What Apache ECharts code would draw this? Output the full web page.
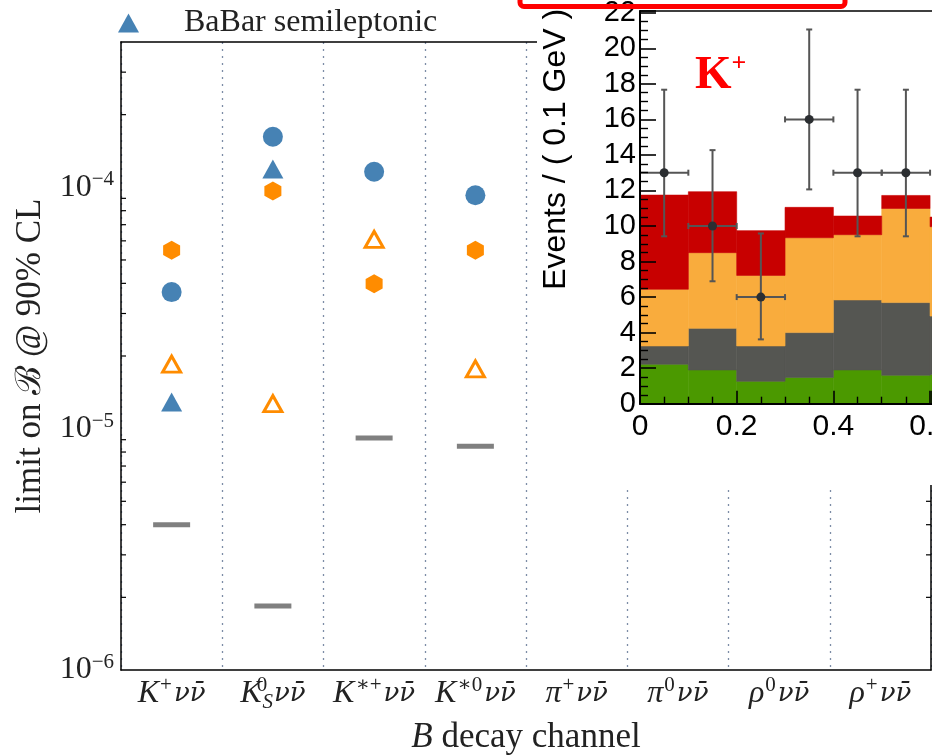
<!DOCTYPE html>
<html>
<head>
<meta charset="utf-8">
<script src="https://cdn.jsdelivr.net/npm/echarts@6/dist/echarts.min.js"></script>
<style>
  html, body { margin: 0; padding: 0; background: #fff; }
  #chart { width: 932px; height: 755px; }
</style>
</head>
<body>
<div id="chart"></div>
<script>
// ---- Upper limits on B -> h nu nubar branching fractions (90% CL) ----
const channels = ['K+νν̄', 'KS0νν̄', 'K*+νν̄', 'K*0νν̄', 'π+νν̄', 'π0νν̄', 'ρ0νν̄', 'ρ+νν̄'];
const nn = '{n|\u03bd\u03bd\u0304}';
const channelLabels = [
  '{i|K}{u|+}' + nn,
  '{i|K}{z|0}{d|S}' + nn,
  '{i|K}{u|∗+}' + nn,
  '{i|K}{u|∗0}' + nn,
  '{i|π}{u|+}' + nn,
  '{i|π}{u|0}' + nn,
  '{i|ρ}{u|0}' + nn,
  '{i|ρ}{u|+}' + nn
];
const babarHadronic   = [3.68e-5, 1.62e-4, 1.16e-4, 9.27e-5];
const babarSemilep    = [1.29e-5, 1.19e-4];
const belleHadronic   = [5.48e-5, 9.66e-5, 3.98e-5, 5.48e-5];
const belleSemilep    = [1.85e-5, 1.27e-5, 6.08e-5, 1.77e-5];
const smPrediction    = [4.0e-6, 1.84e-6, 9.15e-6, 8.45e-6];
const logMinorTicks   = [2e-6, 3e-6, 4e-6, 5e-6, 6e-6, 7e-6, 8e-6, 9e-6,
                         2e-5, 3e-5, 4e-5, 5e-5, 6e-5, 7e-5, 8e-5, 9e-5,
                         2e-4, 3e-4];

// ---- K+ signal-region histogram (events per 0.1 GeV) ----
const binEdges   = [0, 0.1, 0.2, 0.3, 0.4, 0.5, 0.6, 0.7];
const bkgGreen   = [2.22, 1.90, 1.26, 1.48, 1.90, 1.60, 1.65];
const bkgGrey    = [1.03, 2.34, 1.99, 2.52, 3.94, 4.09, 3.28];
const bkgOrange  = [3.19, 4.26, 3.97, 5.34, 3.67, 5.30, 5.03];
const bkgRed     = [5.30, 3.43, 2.52, 1.71, 1.05, 0.73, 0.54];
const dataX      = [0.05, 0.15, 0.25, 0.35, 0.45, 0.55];
const dataCounts = [13, 10, 6, 16, 13, 13];
const dataUpper  = [17.67, 14.27, 9.58, 21.06, 17.67, 17.67];
const dataLower  = [9.42, 6.89, 3.62, 12.06, 9.42, 9.42];

const SERIF = "'Liberation Serif','DejaVu Serif',serif";
const DJ = "'DejaVu Serif',serif";
const SANS = "'Liberation Sans',Arial,sans-serif";
const BLUE = '#4682b4';
const ORANGE = '#ff8c00';
const TXT = '#222';

const hexagon = 'path://M0,-1 L0.866,-0.5 L0.866,0.5 L0,1 L-0.866,0.5 L-0.866,-0.5 Z';

// stacked histogram rectangles built from the component arrays
const stackLayers = [
  { name: 'green', values: bkgGreen, color: '#4b9900' },
  { name: 'grey', values: bkgGrey, color: '#555652' },
  { name: 'orange', values: bkgOrange, color: '#f9ac3d' },
  { name: 'red', values: bkgRed, color: '#c80000' }
];
const base = binEdges.slice(0, -1).map(() => 0);
const stackSeries = stackLayers.map(layer => {
  const rects = layer.values.map((v, i) => {
    const r = [binEdges[i], binEdges[i + 1], base[i], base[i] + v];
    base[i] += v;
    return r;
  });
  return {
    type: 'custom', name: layer.name, xAxisIndex: 2, yAxisIndex: 2, z: 55, silent: true,
    itemStyle: { color: layer.color },
    renderItem: (params, api) => {
      const p0 = api.coord([api.value(0), api.value(3)]);
      const p1 = api.coord([api.value(1), api.value(2)]);
      const c = api.visual('color');
      return { type: 'rect', shape: { x: p0[0], y: p0[1], width: p1[0] - p0[0], height: p1[1] - p0[1] },
               style: { fill: c, stroke: c, lineWidth: 0.6 } };
    },
    data: rects
  };
});

const logLabel = v => {
  const e = Math.log10(v);
  if (Math.abs(e - Math.round(e)) > 1e-6) return '';
  return '{b|10}{s|\u2212' + (-Math.round(e)) + '}';
};

const option = {
  animation: false,
  backgroundColor: '#fff',
  legend: {
    left: 113, top: 2,
    itemWidth: 21, itemHeight: 19,
    data: [{ name: 'BaBar semileptonic', icon: 'triangle' }],
    textStyle: { fontFamily: SERIF, fontSize: 32, color: TXT, padding: [0, 0, 0, 40] }
  },
  title: {
    text: '{k|K}{p|+}', left: 690, top: 46, z: 60,
    textStyle: { rich: {
      k: { fontFamily: SERIF, fontWeight: 'bold', fontSize: 47, color: '#ff0000', lineHeight: 50 },
      p: { fontFamily: SERIF, fontWeight: 'bold', fontSize: 26, color: '#ff0000', verticalAlign: 'top', lineHeight: 26 }
    } }
  },
  grid: [
    { left: 121, top: 42, width: 810, height: 628, outerBoundsMode: 'none', containLabel: false },
    { left: 640, top: 11, width: 292, height: 392.7, outerBoundsMode: 'none', containLabel: false }
  ],
  xAxis: [
    {
      type: 'category', gridIndex: 0, data: channels, boundaryGap: true,
      axisLine: { lineStyle: { color: '#000', width: 1.5 } },
      axisTick: { inside: true, alignWithLabel: true, length: 7, lineStyle: { color: '#000', width: 1.3 } },
      splitLine: { show: true, interval: 0, lineStyle: { color: '#7c8ca6', width: 1.3, type: [2, 5] } },
      axisLabel: {
        interval: 0, margin: 5,
        formatter: (v, i) => channelLabels[i],
        rich: {
          i: { fontFamily: SERIF, fontStyle: 'italic', fontSize: 32, color: TXT, lineHeight: 38 },
          n: { fontFamily: DJ, fontStyle: 'italic', fontSize: 26, color: TXT, lineHeight: 38 },
          u: { fontFamily: SERIF, fontSize: 21, color: TXT, verticalAlign: 'top', lineHeight: 22, padding: [0, 2, 0, 1] },
          z: { fontFamily: SERIF, fontSize: 21, color: TXT, verticalAlign: 'top', lineHeight: 22, width: 1 },
          d: { fontFamily: SERIF, fontStyle: 'italic', fontSize: 21, color: TXT, verticalAlign: 'bottom', lineHeight: 14, padding: [0, 1, 0, 0] }
        }
      },
      name: '{i|B} decay channel', nameLocation: 'middle', nameGap: 50,
      nameTextStyle: { fontFamily: SERIF, fontSize: 35, color: TXT,
        rich: { i: { fontFamily: SERIF, fontStyle: 'italic', fontSize: 35, color: TXT } } }
    },
    {
      type: 'category', gridIndex: 0, data: channels, position: 'top', boundaryGap: true,
      axisLine: { lineStyle: { color: '#000', width: 1.5 } },
      axisTick: { inside: true, alignWithLabel: true, length: 7, lineStyle: { color: '#000', width: 1.3 } },
      axisLabel: { show: false }, splitLine: { show: false }
    },
    {
      type: 'value', gridIndex: 1, min: 0, max: 0.604, interval: 0.2, z: 60,
      axisLine: { onZero: false, lineStyle: { color: '#000', width: 2 } },
      axisTick: { inside: true, length: 13, lineStyle: { color: '#000', width: 1.6 } },
      minorTick: { show: true, splitNumber: 4, length: 7, lineStyle: { color: '#000', width: 1.4 } },
      splitLine: { show: false },
      axisLabel: { fontFamily: SANS, fontSize: 30, color: '#000', margin: 8, showMaxLabel: true,
        formatter: v => (v === 0 ? '0' : (Math.abs(v * 5 - Math.round(v * 5)) < 1e-6 ? v.toFixed(1) : '')) }
    },
    {
      type: 'value', gridIndex: 1, min: 0, max: 0.604, position: 'top', z: 60,
      axisLine: { onZero: false, lineStyle: { color: '#000', width: 1.5 } },
      axisTick: { show: false }, axisLabel: { show: false }, splitLine: { show: false }
    }
  ],
  yAxis: [
    {
      type: 'log', logBase: 10, gridIndex: 0, min: 1e-6, max: 4e-4,
      axisLine: { show: true, lineStyle: { color: '#000', width: 1.5 } },
      axisTick: { inside: true, length: 9, lineStyle: { color: '#000', width: 1.3 } },
      splitLine: { show: false },
      axisLabel: {
        margin: 7, formatter: logLabel,
        rich: {
          b: { fontFamily: SERIF, fontSize: 32, color: TXT, lineHeight: 36 },
          s: { fontFamily: SERIF, fontSize: 21, color: TXT, verticalAlign: 'top', lineHeight: 20 }
        }
      },
      name: 'limit on ℬ @ 90% CL', nameLocation: 'middle', nameGap: 70,
      nameTextStyle: { fontFamily: SERIF, fontSize: 35, color: TXT }
    },
    {
      type: 'log', logBase: 10, gridIndex: 0, min: 1e-6, max: 4e-4, position: 'right',
      axisLine: { show: true, lineStyle: { color: '#000', width: 1.5 } },
      axisTick: { inside: true, length: 9, lineStyle: { color: '#000', width: 1.3 } },
      axisLabel: { show: false }, splitLine: { show: false }
    },
    {
      type: 'value', gridIndex: 1, min: 0, max: 22.1, interval: 2, z: 60,
      axisLine: { show: true, onZero: false, lineStyle: { color: '#000', width: 2 } },
      axisTick: { inside: true, length: 16, lineStyle: { color: '#000', width: 1.6 } },
      minorTick: { show: true, splitNumber: 4, length: 8, lineStyle: { color: '#000', width: 1.4 } },
      splitLine: { show: false },
      axisLabel: { fontFamily: SANS, fontSize: 29, color: '#000', margin: 4,
        formatter: v => (Number.isInteger(v) ? String(v) : '') },
      name: 'Events / ( 0.1 GeV )', nameLocation: 'middle', nameGap: 68,
      nameTextStyle: { fontFamily: SANS, fontSize: 32, color: '#000', padding: [0, 0, 0, 116] }
    }
  ],
  graphic: [
    { type: 'rect', z: 50, silent: true, shape: { x: 537, y: 0, width: 400, height: 485 }, style: { fill: '#fff' } },
    { type: 'rect', z: 70, silent: true, shape: { x: 520, y: -40, width: 325, height: 46.5, r: 4 },
      style: { fill: 'none', stroke: '#ff0000', lineWidth: 5 } }
  ],
  series: [
    {
      type: 'custom', name: 'minor ticks', xAxisIndex: 0, yAxisIndex: 0, silent: true, z: 3,
      renderItem: (params, api) => {
        const cs = params.coordSys;
        const y = api.coord([0, api.value(1)])[1];
        return { type: 'group', children: [
          { type: 'line', shape: { x1: cs.x, y1: y, x2: cs.x + 5, y2: y }, style: { stroke: '#000', lineWidth: 1.2 } },
          { type: 'line', shape: { x1: cs.x + cs.width - 5, y1: y, x2: cs.x + cs.width, y2: y }, style: { stroke: '#000', lineWidth: 1.2 } }
        ] };
      },
      data: logMinorTicks.map(v => [0, v])
    },
    {
      type: 'scatter', name: 'SM prediction', xAxisIndex: 0, yAxisIndex: 0, z: 4,
      symbol: 'rect', symbolSize: [37, 5], itemStyle: { color: '#808080', opacity: 1 },
      data: smPrediction
    },
    {
      type: 'scatter', name: 'Belle semileptonic', xAxisIndex: 0, yAxisIndex: 0, z: 4,
      symbol: 'triangle', symbolSize: [18, 16],
      itemStyle: { color: '#fff', borderColor: ORANGE, borderWidth: 3, opacity: 1 },
      data: belleSemilep
    },
    {
      type: 'scatter', name: 'Belle hadronic', xAxisIndex: 0, yAxisIndex: 0, z: 4,
      symbol: hexagon, symbolSize: [17, 19], itemStyle: { color: ORANGE, opacity: 1 },
      data: belleHadronic
    },
    {
      type: 'scatter', name: 'BaBar hadronic', xAxisIndex: 0, yAxisIndex: 0, z: 4,
      symbol: 'circle', symbolSize: 20, itemStyle: { color: BLUE, opacity: 1 },
      data: babarHadronic
    },
    {
      type: 'scatter', name: 'BaBar semileptonic', xAxisIndex: 0, yAxisIndex: 0, z: 4,
      symbol: 'triangle', symbolSize: [21, 19], itemStyle: { color: BLUE, opacity: 1 },
      data: babarSemilep
    },
    ...stackSeries,
    {
      type: 'custom', name: 'data', xAxisIndex: 2, yAxisIndex: 2, z: 58, silent: true,
      renderItem: (params, api) => {
        const x = api.value(0), n = api.value(1), up = api.value(2), lo = api.value(3);
        const c = api.coord([x, n]);
        const l = api.coord([x - 0.05, n]);
        const r = api.coord([x + 0.05, n]);
        const t = api.coord([x, up]);
        const b = api.coord([x, lo]);
        const ls = { stroke: '#555', lineWidth: 2 };
        const cap = 3;
        return { type: 'group', children: [
          { type: 'line', shape: { x1: l[0], y1: c[1], x2: r[0], y2: c[1] }, style: ls },
          { type: 'line', shape: { x1: l[0], y1: c[1] - cap, x2: l[0], y2: c[1] + cap }, style: ls },
          { type: 'line', shape: { x1: r[0], y1: c[1] - cap, x2: r[0], y2: c[1] + cap }, style: ls },
          { type: 'line', shape: { x1: c[0], y1: t[1], x2: c[0], y2: b[1] }, style: ls },
          { type: 'line', shape: { x1: c[0] - cap, y1: t[1], x2: c[0] + cap, y2: t[1] }, style: ls },
          { type: 'line', shape: { x1: c[0] - cap, y1: b[1], x2: c[0] + cap, y2: b[1] }, style: ls },
          { type: 'circle', shape: { cx: c[0], cy: c[1], r: 4.5 }, style: { fill: '#2b2e31' } }
        ] };
      },
      data: dataX.map((x, i) => [x, dataCounts[i], dataUpper[i], dataLower[i]])
    }
  ]
};

const chart = echarts.init(document.getElementById('chart'), null, { renderer: 'canvas' });
chart.setOption(option);
</script>
</body>
</html>
